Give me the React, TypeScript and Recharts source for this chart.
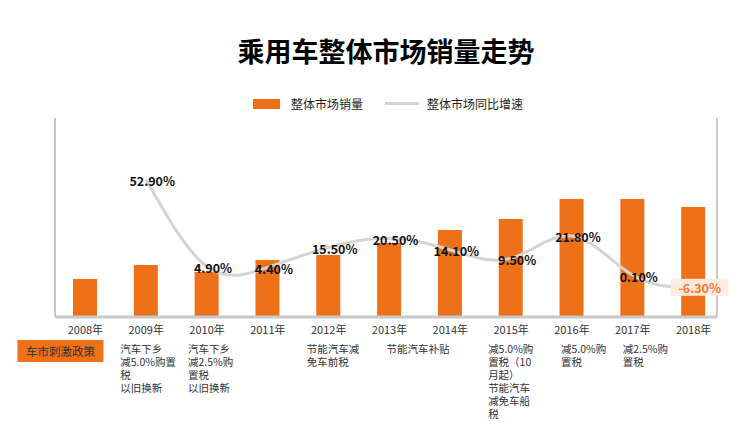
import React from "react";
import {
  ComposedChart,
  Bar,
  Line,
  XAxis,
  YAxis,
  Legend,
  LabelList,
} from "recharts";

if (typeof document !== "undefined") document.body.style.margin = "0";

const years = [
  "2008年", "2009年", "2010年", "2011年", "2012年", "2013年",
  "2014年", "2015年", "2016年", "2017年", "2018年",
];

// 柱高（按图上读数，相对单位）
const sales = [38, 52, 45, 57, 62, 74, 87, 98, 118, 118, 110];

// 同比增速 %
const growth = [null, 52.9, 4.9, 4.4, 15.5, 20.5, 14.1, 9.5, 21.8, 0.1, -6.3];

const policies: string[][] = [
  [],
  ["汽车下乡", "减5.0%购置", "税", "以旧换新"],
  ["汽车下乡", "减2.5%购", "置税", "以旧换新"],
  [],
  ["节能汽车减", "免车前税"],
  ["节能汽车补贴"],
  [],
  ["减5.0%购", "置税（10", "月起）", "节能汽车", "减免车船", "税"],
  ["减5.0%购", "置税"],
  ["减2.5%购", "置税"],
  [],
];

// 政策文字框相对刻度的水平偏移
const policyDx = [0, -26, -19, 0, -22, -3, 0, -23, -11, -10, 0];

const data = years.map((year, i) => ({
  year,
  sales: sales[i],
  growth: growth[i],
}));

const FONT = '"Noto Sans CJK SC", "Noto Sans", sans-serif';
const ORANGE = "#ee7019";
const GRAY_LINE = "#d4d4d4";
const AXIS_GRAY = "#c8c8c8";

const YearTick = (props: any) => {
  const { x, y, payload, index } = props;
  const lines = policies[index] ?? [];
  const left = x + (policyDx[index] ?? 0);
  return (
    <g>
      <text
        x={x}
        y={y + 12}
        textAnchor="middle"
        dominantBaseline="central"
        fill="#333"
        style={{ fontSize: 11, fontFamily: FONT }}
      >
        {payload.value}
      </text>
      {index === 0 && (
        <g>
          <rect x={x - 68} y={y + 23} width={86} height={22} fill={ORANGE} />
          <text
            x={x - 25}
            y={y + 34}
            textAnchor="middle"
            dominantBaseline="central"
            fill="#333"
            style={{ fontSize: 11.5, fontFamily: FONT }}
          >
            车市刺激政策
          </text>
        </g>
      )}
      {lines.map((line, k) => (
        <text
          key={k}
          x={left}
          y={y + 31 + k * 13}
          textAnchor="start"
          dominantBaseline="central"
          fill="#333"
          style={{ fontSize: 10.5, fontFamily: FONT }}
        >
          {line}
        </text>
      ))}
    </g>
  );
};

const GrowthLabel = (props: any) => {
  const { x, y, value, index } = props;
  if (value == null || x == null || y == null) return null;
  const text = `${Number(value).toFixed(2)}%`;
  const last = index === years.length - 1;
  const cx = Number(x) + 6;
  return (
    <g>
      {last && (
        <rect
          x={cx - 29}
          y={Number(y) - 8}
          width={58}
          height={17}
          fill="#fbece3"
          opacity={0.95}
        />
      )}
      <text
        x={cx}
        y={Number(y) + 1}
        textAnchor="middle"
        dominantBaseline="central"
        fill={last ? "#f07a36" : "#111"}
        style={{ fontSize: 12.5, fontWeight: 700, fontFamily: FONT }}
      >
        {text}
      </text>
    </g>
  );
};

const renderLegend = () => (
  <div style={{ position: "relative", height: 20, width: 743, fontFamily: FONT }}>
    <div
      style={{
        position: "absolute",
        left: 253,
        top: 5,
        width: 27,
        height: 10,
        background: ORANGE,
      }}
    />
    <span
      style={{ position: "absolute", left: 291, top: 1, fontSize: 12, color: "#222", lineHeight: "18px" }}
    >
      整体市场销量
    </span>
    <div
      style={{
        position: "absolute",
        left: 385,
        top: 8,
        width: 34,
        height: 3,
        background: GRAY_LINE,
      }}
    />
    <span
      style={{ position: "absolute", left: 427, top: 1, fontSize: 12, color: "#222", lineHeight: "18px" }}
    >
      整体市场同比增速
    </span>
  </div>
);

export default function App() {
  return (
    <div style={{ position: "relative", width: 743, height: 431, background: "#fff" }}>
      <div
        style={{
          position: "absolute",
          left: 0,
          width: 772,
          top: 34,
          textAlign: "center",
          fontFamily: FONT,
          fontWeight: 700,
          fontSize: 27,
          lineHeight: "34px",
          color: "#000",
        }}
      >
        乘用车整体市场销量走势
      </div>
      <ComposedChart
        width={743}
        height={431}
        data={data}
        margin={{ top: 98, right: 25, bottom: 14, left: 54 }}
      >
        <Legend
          verticalAlign="top"
          align="left"
          content={renderLegend}
          wrapperStyle={{ top: 94, left: 0, width: 743, height: 20 }}
        />
        <XAxis
          dataKey="year"
          height={100}
          interval={0}
          tickLine={false}
          tickSize={0}
          tickMargin={0}
          padding={{ left: 0, right: -7 }}
          axisLine={{ stroke: AXIS_GRAY, strokeWidth: 3 }}
          tick={YearTick}
        />
        <YAxis
          yAxisId="sales"
          width={1}
          domain={[0, 199]}
          tick={false}
          tickLine={false}
          axisLine={{ stroke: AXIS_GRAY, strokeWidth: 2 }}
        />
        <YAxis
          yAxisId="rate"
          orientation="right"
          width={1}
          domain={[-23, 87]}
          tick={false}
          tickLine={false}
          axisLine={{ stroke: AXIS_GRAY, strokeWidth: 2 }}
        />
        <Bar
          yAxisId="sales"
          dataKey="sales"
          fill={ORANGE}
          barSize={24}
          isAnimationActive={false}
        />
        <Line
          yAxisId="rate"
          dataKey="growth"
          type="natural"
          stroke={GRAY_LINE}
          strokeWidth={3}
          dot={false}
          activeDot={false}
          isAnimationActive={false}
        >
          <LabelList dataKey="growth" content={GrowthLabel} />
        </Line>
      </ComposedChart>
    </div>
  );
}
